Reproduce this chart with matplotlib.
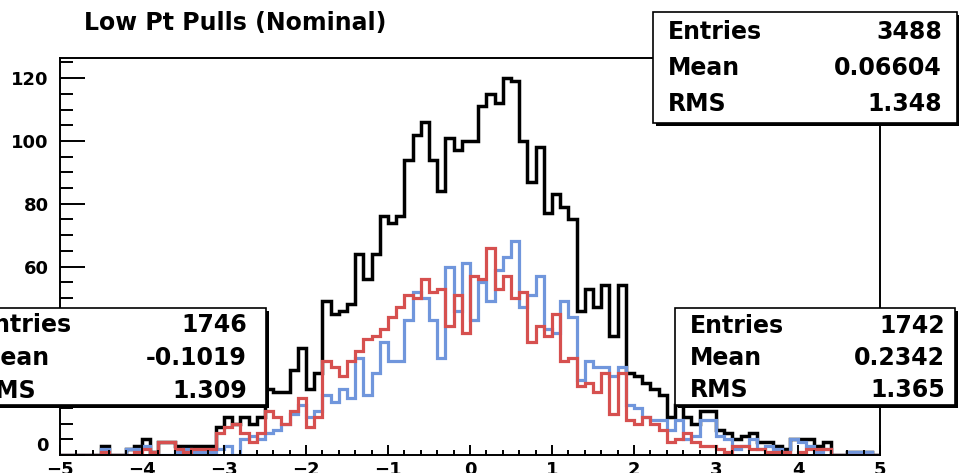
import numpy as np
import matplotlib.pyplot as plt
from matplotlib.patches import Rectangle

# 100 bins from -5 to 5
edges = np.linspace(-5, 5, 101)

# all candidates (black)
total = [0, 0, 0, 0, 0, 3, 0, 0, 2, 3,
         5, 1, 4, 4, 3, 3, 3, 3, 3, 9,
         12, 10, 12, 10, 12, 21, 20, 20, 27, 34,
         21, 26, 49, 45, 46, 48, 64, 56, 64, 76,
         74, 76, 94, 102, 106, 94, 84, 101, 97, 100,
         100, 111, 115, 112, 120, 119, 100, 87, 98, 77,
         83, 79, 75, 46, 53, 47, 54, 38, 54, 26,
         25, 23, 21, 19, 12, 16, 12, 10, 14, 14,
         8, 7, 5, 6, 7, 4, 4, 3, 2, 5,
         5, 5, 3, 4, 0, 0, 1, 1, 1, 0]

# first subsample (blue)
blue = [0, 0, 0, 0, 0, 2, 0, 0, 2, 2,
        3, 0, 0, 0, 1, 2, 1, 1, 1, 2,
        3, 0, 5, 6, 5, 7, 8, 10, 13, 16,
        12, 14, 19, 17, 21, 18, 31, 19, 26, 36,
        30, 30, 43, 52, 50, 43, 31, 60, 46, 61,
        43, 55, 49, 59, 63, 68, 47, 51, 57, 40,
        39, 49, 44, 24, 30, 28, 28, 25, 28, 16,
        15, 12, 11, 11, 8, 11, 5, 6, 11, 11,
        6, 5, 2, 3, 5, 2, 3, 2, 1, 5,
        4, 3, 1, 2, 0, 0, 1, 1, 1, 0]

# second subsample (red)
red = [0, 0, 0, 0, 0, 1, 0, 0, 0, 1,
       2, 1, 4, 4, 2, 1, 2, 2, 2, 7,
       9, 10, 7, 4, 7, 14, 12, 10, 14, 18,
       9, 12, 30, 28, 25, 30, 33, 37, 38, 40,
       44, 47, 51, 50, 56, 52, 53, 41, 51, 39,
       57, 56, 66, 53, 57, 50, 52, 36, 41, 38,
       45, 30, 31, 22, 23, 20, 26, 13, 26, 11,
       10, 12, 10, 8, 4, 5, 7, 4, 3, 3,
       2, 1, 3, 3, 2, 2, 1, 1, 1, 0,
       1, 2, 2, 2, 0, 0, 0, 0, 0, 0]

# y labels under the left stats box are left blank
ytick_vals = [0, 20, 40, 60, 80, 100, 120]
ytick_labels = ["0", "", "", "60", "80", "100", "120"]

stats_total = [("Entries", "3488"), ("Mean", "0.06604"), ("RMS", "1.348")]
stats_left = [("Entries", "1746"), ("Mean", "-0.1019"), ("RMS", "1.309")]
stats_right = [("Entries", "1742"), ("Mean", "0.2342"), ("RMS", "1.365")]

W, H = 959, 473
plt.rcParams['font.family'] = 'DejaVu Sans'
plt.rcParams['font.weight'] = 'bold'

fig = plt.figure(figsize=(W / 100, H / 100), dpi=100)
ax = fig.add_axes([60 / W, 1 - 455 / H, 820 / W, 397 / H])

ax.stairs(total, edges, color='black', lw=2.5, baseline=0)
ax.stairs(blue, edges, color='#7096dc', lw=2.3, baseline=0)
ax.stairs(red, edges, color='#d6504f', lw=2.3, baseline=0)

ax.set_xlim(-5, 5)
ax.set_ylim(0, 126.4)
ax.set_xticks(np.arange(-5, 6, 1))
ax.set_xticks(np.arange(-5, 5.01, 0.2), minor=True)
ax.set_yticks(ytick_vals)
ax.set_yticklabels(ytick_labels)
ax.set_yticks(np.arange(0, 126, 5), minor=True)
for s in ax.spines.values():
    s.set_linewidth(1.4)
ax.tick_params(axis='both', which='both', direction='in', width=1.4,
               top=False, right=False, labelsize=13)
ax.tick_params(axis='x', which='major', length=7.2, pad=4)
ax.tick_params(axis='x', which='minor', length=3.6)
ax.tick_params(axis='y', which='major', length=18, pad=8)
ax.tick_params(axis='y', which='minor', length=9.4)
for lab in ax.get_xticklabels() + ax.get_yticklabels():
    lab.set_fontweight('bold')
# lift the zero label a little so it clears the x labels
ax.get_yticklabels()[0].set_va('bottom')

fig.text(84 / W, 1 - 23 / H, "Low Pt Pulls (Nominal)", fontsize=17,
         fontweight='bold', ha='left', va='center')


def stats_box(x0, y0, x1, y1, rows, tx, nx, ys):
    # shadow first, then the white box on top
    fig.patches.append(Rectangle((x0 / W + 3 / W, 1 - y1 / H - 3 / H),
                                 (x1 - x0) / W, (y1 - y0) / H,
                                 transform=fig.transFigure, facecolor='black',
                                 edgecolor='none', zorder=5))
    fig.patches.append(Rectangle((x0 / W, 1 - y1 / H), (x1 - x0) / W,
                                 (y1 - y0) / H, transform=fig.transFigure,
                                 facecolor='white', edgecolor='black',
                                 lw=1.2, zorder=6))
    for (name, val), y in zip(rows, ys):
        fig.text(tx / W, 1 - y / H, name, fontsize=17, fontweight='bold',
                 ha='left', va='center', zorder=7)
        fig.text(nx / W, 1 - y / H, val, fontsize=17, fontweight='bold',
                 ha='right', va='center', zorder=7)


stats_box(653, 12, 957, 123, stats_total, 668, 942, [32, 68, 104])
stats_box(-40, 308, 266, 405, stats_left, -22, 247, [325, 358, 391])
stats_box(675, 308, 955, 405, stats_right, 690, 945, [326, 358, 390])

fig.savefig('out.png', dpi=100)
